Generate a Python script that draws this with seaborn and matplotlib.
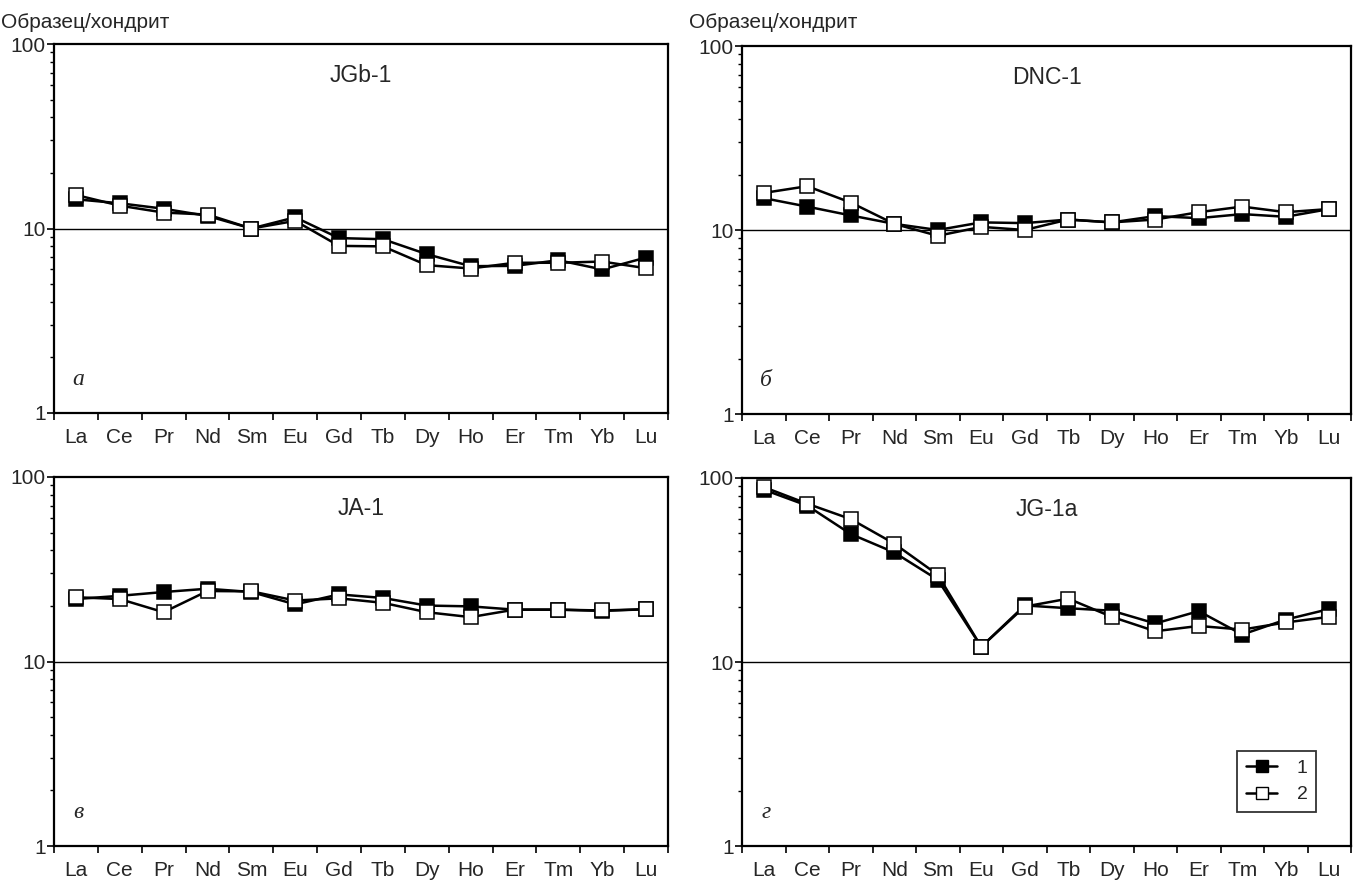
import numpy as np
import pandas as pd
import matplotlib
matplotlib.use("Agg")
import matplotlib.pyplot as plt
from matplotlib.lines import Line2D
from matplotlib.ticker import LogLocator, FixedLocator, NullFormatter, FixedFormatter
import seaborn as sns

# Rare earth elements (chondrite-normalised patterns)
elements = ["La", "Ce", "Pr", "Nd", "Sm", "Eu", "Gd", "Tb", "Dy", "Ho", "Er", "Tm", "Yb", "Lu"]

# JGb-1
jgb1_s1 = [14.4, 13.7, 12.8, 11.7, 10.0, 11.5, 8.87, 8.75, 7.26, 6.25, 6.27, 6.73, 6.0, 6.96]
jgb1_s2 = [15.2, 13.3, 12.2, 11.9, 10.0, 11.0, 8.05, 8.0, 6.33, 6.07, 6.52, 6.52, 6.62, 6.09]
# DNC-1
dnc1_s1 = [14.9, 13.4, 12.0, 10.8, 10.0, 11.0, 10.9, 11.4, 11.0, 11.9, 11.6, 12.2, 11.8, 13.0]
dnc1_s2 = [15.9, 17.3, 14.1, 10.8, 9.3, 10.4, 10.0, 11.4, 11.0, 11.4, 12.5, 13.4, 12.5, 13.0]
# JA-1
ja1_s1 = [21.8, 22.7, 23.8, 24.8, 23.8, 20.4, 23.1, 22.1, 20.1, 19.9, 19.1, 19.1, 18.8, 19.2]
ja1_s2 = [22.3, 21.8, 18.5, 24.1, 24.0, 21.4, 22.0, 20.8, 18.5, 17.4, 19.1, 19.1, 18.9, 19.2]
# JG-1a
jg1a_s1 = [86.4, 70.8, 49.6, 39.4, 28.0, 12.1, 20.3, 19.6, 19.0, 16.2, 18.9, 14.1, 17.0, 19.4]
jg1a_s2 = [89.3, 72.5, 59.8, 44.0, 29.8, 12.1, 20.0, 22.1, 17.6, 14.7, 15.7, 15.0, 16.4, 17.6]

titles = ["JGb-1", "DNC-1", "JA-1", "JG-1a"]
letters = ["а", "б", "в", "г"]
series_labels = ["1", "2"]
ylabel_text = "Образец/хондрит"

panels = [(jgb1_s1, jgb1_s2), (dnc1_s1, dnc1_s2), (ja1_s1, ja1_s2), (jg1a_s1, jg1a_s2)]

sns.set_theme(style="white")
plt.rcParams["font.family"] = ["Liberation Sans", "DejaVu Sans"]

W, H = 1354, 882
fig = plt.figure(figsize=(W / 100, H / 100), dpi=100)

# axes boxes in pixels: left, top, right, bottom
boxes = [(54, 44, 668, 413), (742, 46, 1351, 414), (54, 477, 668, 846), (742, 478, 1351, 846)]

pos = np.arange(len(elements))
for i, (box, (s1, s2)) in enumerate(zip(boxes, panels)):
    l, t, r, b = box
    ax = fig.add_axes([l / W, 1 - b / H, (r - l) / W, (b - t) / H])
    df = pd.DataFrame({"pos": np.concatenate([pos, pos]),
                       "value": s1 + s2,
                       "series": ["1"] * len(pos) + ["2"] * len(pos)})
    ax.axhline(10, color="black", lw=1.0, zorder=1)
    for lab, face in zip(series_labels, ["black", "white"]):
        sub = df[df["series"] == lab]
        sns.lineplot(data=sub, x="pos", y="value", ax=ax, color="black", lw=1.8,
                     marker="s", markersize=9.5, markerfacecolor=face,
                     markeredgecolor="black", markeredgewidth=1.1, zorder=3,
                     legend=False)
    ax.set_yscale("log")
    ax.set_ylim(1, 100)
    ax.set_xlim(-0.5, len(elements) - 0.5)
    ax.set_xlabel("")
    ax.set_ylabel("")
    ax.yaxis.set_major_locator(FixedLocator([1, 10, 100]))
    ax.yaxis.set_major_formatter(FixedFormatter(["1", "10", "100"]))
    ax.yaxis.set_minor_locator(LogLocator(base=10, subs=np.arange(2, 10)))
    ax.yaxis.set_minor_formatter(NullFormatter())
    ax.set_xticks(pos)
    ax.set_xticklabels(elements)
    ax.set_xticks(np.arange(-0.5, len(elements)), minor=True)
    ax.tick_params(axis="x", which="major", length=0, pad=11, labelsize=15)
    ax.tick_params(axis="x", which="minor", length=5, width=1.2, direction="out",
                   bottom=True, color="black")
    ax.tick_params(axis="y", which="major", length=5, width=1.2, direction="out",
                   left=True, pad=1, labelsize=15, color="black")
    ax.tick_params(axis="y", which="minor", length=3, width=1.0, direction="out",
                   left=True, color="black")
    for sp in ax.spines.values():
        sp.set_color("black")
        sp.set_linewidth(1.6)
    ax.text(0.5, 0.915, titles[i], transform=ax.transAxes, ha="center", va="center",
            fontsize=16.5)
    ax.text(0.04, 0.09, letters[i], transform=ax.transAxes, ha="center", va="center",
            fontsize=17, style="italic", family=["Liberation Serif", "DejaVu Serif"])
    if i == 3:
        handles = [Line2D([], [], color="black", lw=1.8, marker="s", markersize=8,
                          markerfacecolor=f, markeredgecolor="black")
                   for f in ["black", "white"]]
        leg = ax.legend(handles, series_labels, loc="lower right",
                        bbox_to_anchor=(0.943, 0.092), borderaxespad=0,
                        frameon=True, fancybox=False,
                        edgecolor="black", handlelength=1.6, fontsize=14,
                        borderpad=0.45, labelspacing=0.45, handletextpad=1.0)
        leg.get_frame().set_linewidth(1.3)

fig.text(1 / W, 1 - 22 / H, ylabel_text, ha="left", va="center", fontsize=15)
fig.text(689 / W, 1 - 22 / H, ylabel_text, ha="left", va="center", fontsize=15)

fig.savefig("out.png", dpi=100)
